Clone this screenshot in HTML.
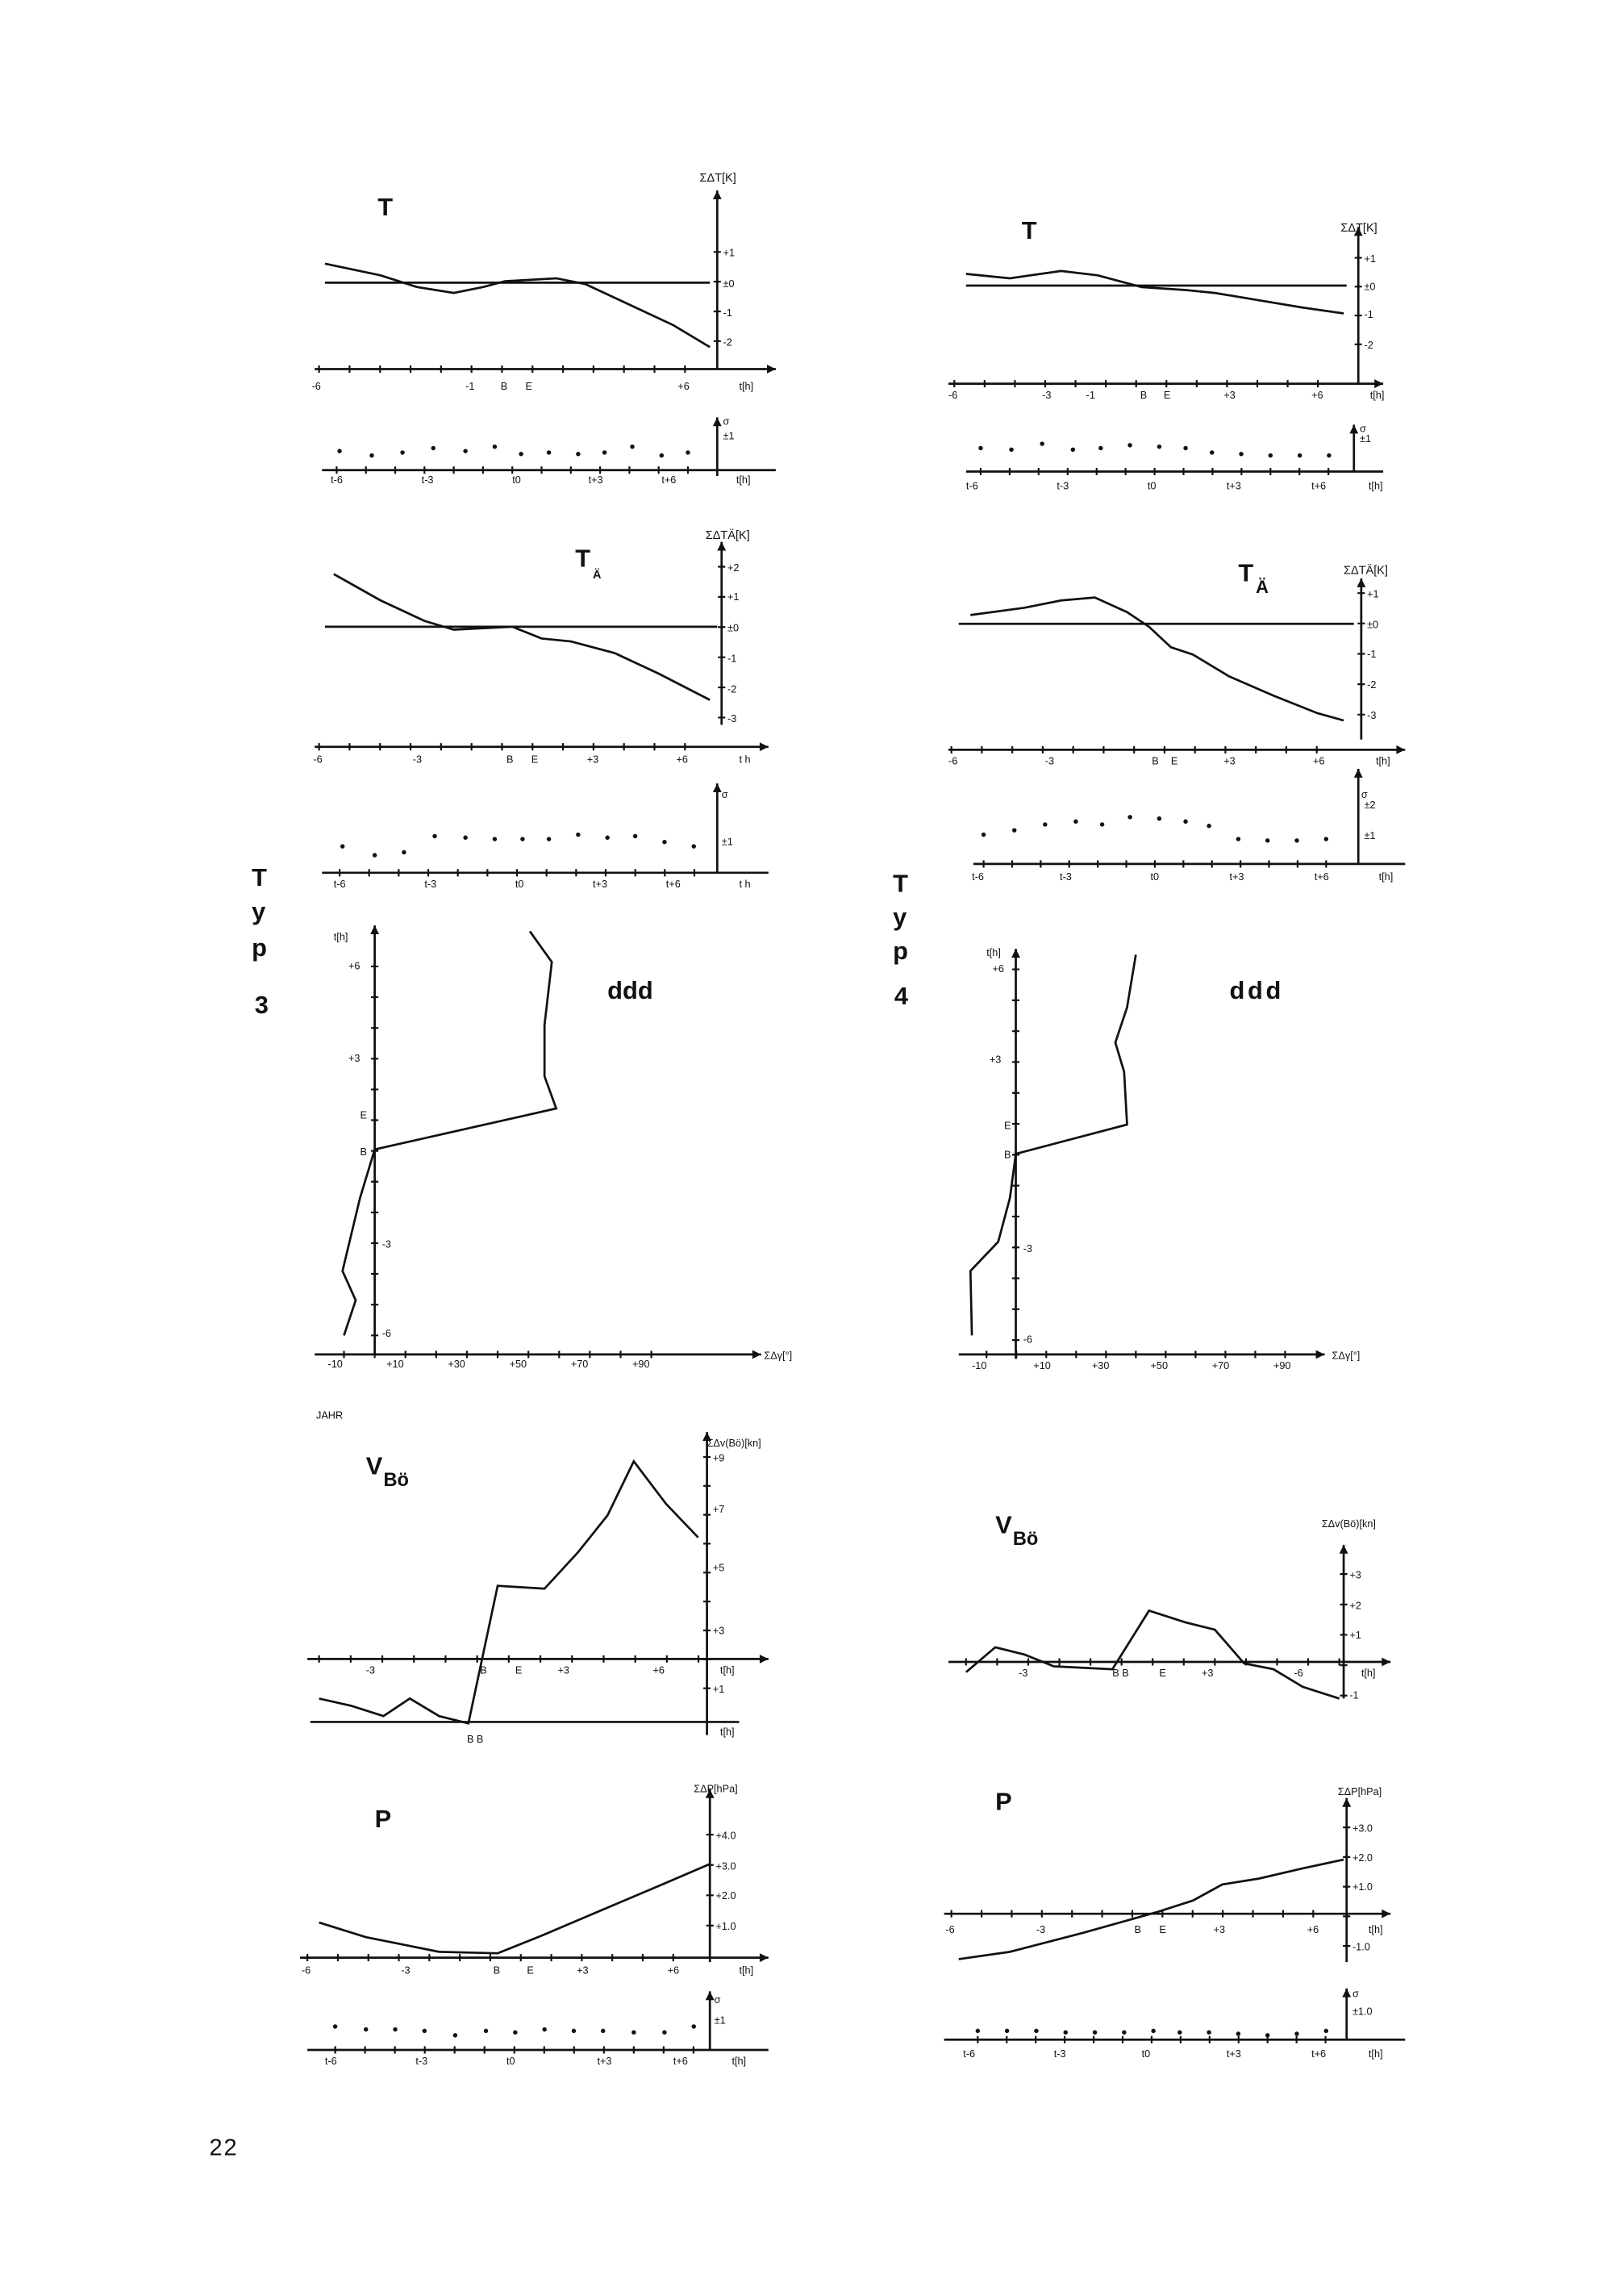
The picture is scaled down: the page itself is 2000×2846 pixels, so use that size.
<!DOCTYPE html>
<html><head><meta charset="utf-8"><style>
html,body{margin:0;padding:0;background:#fff;}
svg{display:block;}
text{font-family:"Liberation Sans",sans-serif;fill:#111;}
.s{font-size:7px;}
.m{font-size:8px;}
.b{font-size:17px;font-weight:bold;}
</style></head><body>
<svg width="2000" height="2846" viewBox="0 0 1102 1568" xmlns="http://www.w3.org/2000/svg">
<rect width="1102" height="1568" fill="#fff"/>
<g stroke="#111" stroke-width="1.5" fill="none">
<!-- LEFT T -->
<line x1="490" y1="130" x2="490" y2="252"/><line x1="215" y1="252" x2="530" y2="252"/>
<line x1="222" y1="193" x2="485" y2="193"/>
<polyline points="222,180 260,188 285,196 310,200 330,196 345,192 380,190 400,194 430,208 460,222 485,237"/>
<line x1="220" y1="321" x2="530" y2="321"/><line x1="490" y1="285" x2="490" y2="325"/>
<!-- LEFT TA -->
<line x1="493" y1="370" x2="493" y2="495"/><line x1="222" y1="428" x2="490" y2="428"/>
<polyline points="228,392 260,410 290,424 310,430 350,428 370,436 390,438 420,446 450,460 485,478"/>
<line x1="215" y1="510" x2="525" y2="510"/>
<line x1="220" y1="596" x2="525" y2="596"/><line x1="490" y1="535" x2="490" y2="596"/>
<!-- LEFT ddd -->
<line x1="256" y1="632" x2="256" y2="925"/><line x1="215" y1="925" x2="520" y2="925"/>
<polyline points="362,636 377,657 372,700 372,735 380,757 256,785 246,818 234,868 243,888 235,912"/>
<!-- LEFT VBo -->
<line x1="483" y1="978" x2="483" y2="1185"/><line x1="210" y1="1133" x2="525" y2="1133"/>
<line x1="212" y1="1176" x2="505" y2="1176"/>
<polyline points="218,1160 240,1165 262,1172 280,1160 300,1172 320,1177 340,1083 372,1085 395,1060 415,1035 433,998 455,1027 477,1050"/>
<!-- LEFT P -->
<line x1="485" y1="1222" x2="485" y2="1340"/><line x1="205" y1="1337" x2="525" y2="1337"/>
<polyline points="218,1313 250,1323 300,1333 340,1334 370,1322 410,1305 450,1288 485,1273"/>
<line x1="210" y1="1400" x2="525" y2="1400"/><line x1="485" y1="1360" x2="485" y2="1400"/>
<!-- RIGHT T -->
<line x1="928" y1="155" x2="928" y2="262"/><line x1="648" y1="262" x2="945" y2="262"/>
<line x1="660" y1="195" x2="920" y2="195"/>
<polyline points="660,187 690,190 725,185 750,188 780,196 810,198 830,200 860,205 890,210 918,214"/>
<line x1="660" y1="322" x2="945" y2="322"/><line x1="925" y1="290" x2="925" y2="322"/>
<!-- RIGHT TA -->
<line x1="930" y1="395" x2="930" y2="505"/><line x1="655" y1="426" x2="925" y2="426"/>
<polyline points="663,420 700,415 725,410 748,408 770,418 785,428 800,442 815,447 840,462 870,475 900,487 918,492"/>
<line x1="648" y1="512" x2="960" y2="512"/>
<line x1="665" y1="590" x2="960" y2="590"/><line x1="928" y1="525" x2="928" y2="590"/>
<!-- RIGHT ddd -->
<line x1="694" y1="648" x2="694" y2="928"/><line x1="655" y1="925" x2="905" y2="925"/>
<polyline points="776,652 770,688 762,712 768,732 770,768 694,788 690,818 682,848 663,868 664,912"/>
<!-- RIGHT VBo -->
<line x1="918" y1="1055" x2="918" y2="1160"/><line x1="648" y1="1135" x2="950" y2="1135"/>
<polyline points="660,1142 680,1125 700,1130 720,1138 760,1140 785,1100 810,1108 830,1113 850,1136 870,1140 890,1152 915,1160"/>
<!-- RIGHT P -->
<line x1="920" y1="1228" x2="920" y2="1340"/><line x1="645" y1="1307" x2="950" y2="1307"/>
<polyline points="655,1338 690,1333 740,1320 790,1306 815,1298 835,1287 860,1283 890,1276 918,1270"/>
<line x1="645" y1="1393" x2="960" y2="1393"/><line x1="920" y1="1358" x2="920" y2="1393"/>
</g>
<!-- tick marks -->
<g stroke="#111" stroke-width="5" fill="none">
<line x1="217.4" y1="252" x2="469" y2="252" stroke-dasharray="1.2 19.63"/>
<line x1="490" y1="171.4" x2="490" y2="234" stroke-dasharray="1.2 19.1"/>
<line x1="229.4" y1="321" x2="471" y2="321" stroke-dasharray="1.2 18.8"/>
<line x1="217.4" y1="510" x2="469" y2="510" stroke-dasharray="1.2 19.63"/>
<line x1="493" y1="386.4" x2="493" y2="491" stroke-dasharray="1.2 19.4"/>
<line x1="231.4" y1="596" x2="475" y2="596" stroke-dasharray="1.2 19"/>
<line x1="234.4" y1="925" x2="446" y2="925" stroke-dasharray="1.2 19.8"/>
<line x1="256" y1="659.4" x2="256" y2="913" stroke-dasharray="1.2 19.8"/>
<line x1="217.4" y1="1133" x2="478" y2="1133" stroke-dasharray="1.2 20.4"/>
<line x1="483" y1="994.4" x2="483" y2="1154" stroke-dasharray="1.2 18.55"/>
<line x1="209.4" y1="1337" x2="461" y2="1337" stroke-dasharray="1.2 19.63"/>
<line x1="485" y1="1252.4" x2="485" y2="1316" stroke-dasharray="1.2 19.5"/>
<line x1="228.4" y1="1400" x2="475" y2="1400" stroke-dasharray="1.2 19.2"/>
<line x1="651.4" y1="262" x2="901" y2="262" stroke-dasharray="1.2 19.5"/>
<line x1="928" y1="175.4" x2="928" y2="236" stroke-dasharray="1.2 18.5"/>
<line x1="669.4" y1="322" x2="909" y2="322" stroke-dasharray="1.2 18.6"/>
<line x1="649.4" y1="512" x2="901" y2="512" stroke-dasharray="1.2 19.6"/>
<line x1="930" y1="404.4" x2="930" y2="489" stroke-dasharray="1.2 19.55"/>
<line x1="671.4" y1="590" x2="907" y2="590" stroke-dasharray="1.2 18.3"/>
<line x1="673.4" y1="925" x2="879" y2="925" stroke-dasharray="1.2 19.2"/>
<line x1="694" y1="661.4" x2="694" y2="916" stroke-dasharray="1.2 19.9"/>
<line x1="659.4" y1="1135" x2="916" y2="1135" stroke-dasharray="1.2 20.05"/>
<line x1="918" y1="1074.4" x2="918" y2="1159" stroke-dasharray="1.2 19.55"/>
<line x1="649.4" y1="1307" x2="898" y2="1307" stroke-dasharray="1.2 19.4"/>
<line x1="920" y1="1247.4" x2="920" y2="1330" stroke-dasharray="1.2 19.05"/>
<line x1="667.4" y1="1393" x2="907" y2="1393" stroke-dasharray="1.2 18.6"/>
</g>
<g fill="#111">
<!-- sigma dots -->
<circle cx="232" cy="308" r="1.5"/><circle cx="254" cy="311" r="1.5"/><circle cx="275" cy="309" r="1.5"/><circle cx="296" cy="306" r="1.5"/><circle cx="318" cy="308" r="1.5"/><circle cx="338" cy="305" r="1.5"/><circle cx="356" cy="310" r="1.5"/><circle cx="375" cy="309" r="1.5"/><circle cx="395" cy="310" r="1.5"/><circle cx="413" cy="309" r="1.5"/><circle cx="432" cy="305" r="1.5"/><circle cx="452" cy="311" r="1.5"/><circle cx="470" cy="309" r="1.5"/>
<circle cx="234" cy="578" r="1.5"/><circle cx="256" cy="584" r="1.5"/><circle cx="276" cy="582" r="1.5"/><circle cx="297" cy="571" r="1.5"/><circle cx="318" cy="572" r="1.5"/><circle cx="338" cy="573" r="1.5"/><circle cx="357" cy="573" r="1.5"/><circle cx="375" cy="573" r="1.5"/><circle cx="395" cy="570" r="1.5"/><circle cx="415" cy="572" r="1.5"/><circle cx="434" cy="571" r="1.5"/><circle cx="454" cy="575" r="1.5"/><circle cx="474" cy="578" r="1.5"/>
<circle cx="229" cy="1384" r="1.5"/><circle cx="250" cy="1386" r="1.5"/><circle cx="270" cy="1386" r="1.5"/><circle cx="290" cy="1387" r="1.5"/><circle cx="311" cy="1390" r="1.5"/><circle cx="332" cy="1387" r="1.5"/><circle cx="352" cy="1388" r="1.5"/><circle cx="372" cy="1386" r="1.5"/><circle cx="392" cy="1387" r="1.5"/><circle cx="412" cy="1387" r="1.5"/><circle cx="433" cy="1388" r="1.5"/><circle cx="454" cy="1388" r="1.5"/><circle cx="474" cy="1384" r="1.5"/>
<circle cx="670" cy="306" r="1.5"/><circle cx="691" cy="307" r="1.5"/><circle cx="712" cy="303" r="1.5"/><circle cx="733" cy="307" r="1.5"/><circle cx="752" cy="306" r="1.5"/><circle cx="772" cy="304" r="1.5"/><circle cx="792" cy="305" r="1.5"/><circle cx="810" cy="306" r="1.5"/><circle cx="828" cy="309" r="1.5"/><circle cx="848" cy="310" r="1.5"/><circle cx="868" cy="311" r="1.5"/><circle cx="888" cy="311" r="1.5"/><circle cx="908" cy="311" r="1.5"/>
<circle cx="672" cy="570" r="1.5"/><circle cx="693" cy="567" r="1.5"/><circle cx="714" cy="563" r="1.5"/><circle cx="735" cy="561" r="1.5"/><circle cx="753" cy="563" r="1.5"/><circle cx="772" cy="558" r="1.5"/><circle cx="792" cy="559" r="1.5"/><circle cx="810" cy="561" r="1.5"/><circle cx="826" cy="564" r="1.5"/><circle cx="846" cy="573" r="1.5"/><circle cx="866" cy="574" r="1.5"/><circle cx="886" cy="574" r="1.5"/><circle cx="906" cy="573" r="1.5"/>
<circle cx="668" cy="1387" r="1.5"/><circle cx="688" cy="1387" r="1.5"/><circle cx="708" cy="1387" r="1.5"/><circle cx="728" cy="1388" r="1.5"/><circle cx="748" cy="1388" r="1.5"/><circle cx="768" cy="1388" r="1.5"/><circle cx="788" cy="1387" r="1.5"/><circle cx="806" cy="1388" r="1.5"/><circle cx="826" cy="1388" r="1.5"/><circle cx="846" cy="1389" r="1.5"/><circle cx="866" cy="1390" r="1.5"/><circle cx="886" cy="1389" r="1.5"/><circle cx="906" cy="1387" r="1.5"/>
<!-- arrows -->
<path d="M530,252 l-6,-3 v6z M490,130 l-3,6 h6z M525,510 l-6,-3 v6z M493,370 l-3,6 h6z M520,925 l-6,-3 v6z M256,632 l-3,6 h6z M525,1133 l-6,-3 v6z M483,978 l-3,6 h6z M525,1337 l-6,-3 v6z M485,1222 l-3,6 h6z M945,262 l-6,-3 v6z M928,155 l-3,6 h6z M960,512 l-6,-3 v6z M930,395 l-3,6 h6z M905,925 l-6,-3 v6z M694,648 l-3,6 h6z M950,1135 l-6,-3 v6z M918,1055 l-3,6 h6z M950,1307 l-6,-3 v6z M920,1228 l-3,6 h6z M925,290 l-3,6 h6z M928,525 l-3,6 h6z M920,1358 l-3,6 h6z M490,285 l-3,6 h6z M490,535 l-3,6 h6z M485,1360 l-3,6 h6z"/>
</g>
<!-- LEFT labels -->
<text class="b" x="258" y="147">T</text>
<text class="m" x="478" y="124">ΣΔT[K]</text>
<text class="s" x="494" y="175">+1</text><text class="s" x="494" y="196">±0</text><text class="s" x="494" y="216">-1</text><text class="s" x="494" y="236">-2</text>
<text class="s" x="213" y="266">-6</text><text class="s" x="318" y="266">-1</text><text class="s" x="342" y="266">B</text><text class="s" x="359" y="266">E</text><text class="s" x="463" y="266">+6</text><text class="s" x="505" y="266">t[h]</text>
<text class="s" x="494" y="290">σ</text><text class="s" x="494" y="300">±1</text>
<text class="s" x="226" y="330">t-6</text><text class="s" x="288" y="330">t-3</text><text class="s" x="350" y="330">t0</text><text class="s" x="402" y="330">t+3</text><text class="s" x="452" y="330">t+6</text><text class="s" x="503" y="330">t[h]</text>
<text class="b" x="393" y="387">T</text><text class="m" x="405" y="395" font-weight="bold" font-size="12">Ä</text>
<text class="m" x="482" y="368">ΣΔTÄ[K]</text>
<text class="s" x="497" y="390">+2</text><text class="s" x="497" y="410">+1</text><text class="s" x="497" y="431">±0</text><text class="s" x="497" y="452">-1</text><text class="s" x="497" y="473">-2</text><text class="s" x="497" y="493">-3</text>
<text class="s" x="214" y="521">-6</text><text class="s" x="282" y="521">-3</text><text class="s" x="346" y="521">B</text><text class="s" x="363" y="521">E</text><text class="s" x="401" y="521">+3</text><text class="s" x="462" y="521">+6</text><text class="s" x="505" y="521">t h</text>
<text class="s" x="493" y="545">σ</text><text class="s" x="493" y="577">±1</text>
<text class="s" x="228" y="606">t-6</text><text class="s" x="290" y="606">t-3</text><text class="s" x="352" y="606">t0</text><text class="s" x="405" y="606">t+3</text><text class="s" x="455" y="606">t+6</text><text class="s" x="505" y="606">t h</text>
<text class="b" x="172" y="605">T</text><text class="b" x="172" y="628">y</text><text class="b" x="172" y="653">p</text><text class="b" x="174" y="692">3</text>
<text class="s" x="228" y="642">t[h]</text><text class="s" x="238" y="662">+6</text><text class="s" x="238" y="725">+3</text><text class="s" x="246" y="764">E</text><text class="s" x="246" y="789">B</text><text class="s" x="261" y="852">-3</text><text class="s" x="261" y="913">-6</text>
<text class="s" x="224" y="934">-10</text><text class="s" x="264" y="934">+10</text><text class="s" x="306" y="934">+30</text><text class="s" x="348" y="934">+50</text><text class="s" x="390" y="934">+70</text><text class="s" x="432" y="934">+90</text><text class="s" x="522" y="928">ΣΔγ[°]</text>
<text class="b" x="415" y="682">ddd</text>
<text class="s" x="216" y="969">JAHR</text>
<text class="b" x="250" y="1007">V</text><text font-size="13" font-weight="bold" x="262" y="1015">Bö</text>
<text class="s" x="483" y="988">ΣΔv(Bö)[kn]</text>
<text class="s" x="487" y="998">+9</text><text class="s" x="487" y="1033">+7</text><text class="s" x="487" y="1073">+5</text><text class="s" x="487" y="1116">+3</text><text class="s" x="487" y="1156">+1</text>
<text class="s" x="250" y="1143">-3</text><text class="s" x="328" y="1143">B</text><text class="s" x="352" y="1143">E</text><text class="s" x="381" y="1143">+3</text><text class="s" x="446" y="1143">+6</text><text class="s" x="492" y="1143">t[h]</text>
<text class="s" x="319" y="1190">B B</text><text class="s" x="492" y="1185">t[h]</text>
<text class="b" x="256" y="1248">P</text>
<text class="s" x="474" y="1224">ΣΔP[hPa]</text>
<text class="s" x="489" y="1256">+4.0</text><text class="s" x="489" y="1277">+3.0</text><text class="s" x="489" y="1297">+2.0</text><text class="s" x="489" y="1318">+1.0</text>
<text class="s" x="206" y="1348">-6</text><text class="s" x="274" y="1348">-3</text><text class="s" x="337" y="1348">B</text><text class="s" x="360" y="1348">E</text><text class="s" x="394" y="1348">+3</text><text class="s" x="456" y="1348">+6</text><text class="s" x="505" y="1348">t[h]</text>
<text class="s" x="488" y="1368">σ</text><text class="s" x="488" y="1382">±1</text>
<text class="s" x="222" y="1410">t-6</text><text class="s" x="284" y="1410">t-3</text><text class="s" x="346" y="1410">t0</text><text class="s" x="408" y="1410">t+3</text><text class="s" x="460" y="1410">t+6</text><text class="s" x="500" y="1410">t[h]</text>
<!-- RIGHT labels -->
<text class="b" x="698" y="163">T</text>
<text class="m" x="916" y="158">ΣΔT[K]</text>
<text class="s" x="932" y="179">+1</text><text class="s" x="932" y="198">±0</text><text class="s" x="932" y="217">-1</text><text class="s" x="932" y="238">-2</text>
<text class="s" x="648" y="272">-6</text><text class="s" x="712" y="272">-3</text><text class="s" x="742" y="272">-1</text><text class="s" x="779" y="272">B</text><text class="s" x="795" y="272">E</text><text class="s" x="836" y="272">+3</text><text class="s" x="896" y="272">+6</text><text class="s" x="936" y="272">t[h]</text>
<text class="s" x="929" y="295">σ</text><text class="s" x="929" y="302">±1</text>
<text class="s" x="660" y="334">t-6</text><text class="s" x="722" y="334">t-3</text><text class="s" x="784" y="334">t0</text><text class="s" x="838" y="334">t+3</text><text class="s" x="896" y="334">t+6</text><text class="s" x="935" y="334">t[h]</text>
<text class="b" x="846" y="397">T</text><text font-size="12" font-weight="bold" x="858" y="405">Ä</text>
<text class="m" x="918" y="392">ΣΔTÄ[K]</text>
<text class="s" x="934" y="408">+1</text><text class="s" x="934" y="429">±0</text><text class="s" x="934" y="449">-1</text><text class="s" x="934" y="470">-2</text><text class="s" x="934" y="491">-3</text>
<text class="s" x="648" y="522">-6</text><text class="s" x="714" y="522">-3</text><text class="s" x="787" y="522">B</text><text class="s" x="800" y="522">E</text><text class="s" x="836" y="522">+3</text><text class="s" x="897" y="522">+6</text><text class="s" x="940" y="522">t[h]</text>
<text class="s" x="930" y="545">σ</text><text class="s" x="932" y="552">±2</text><text class="s" x="932" y="573">±1</text>
<text class="s" x="664" y="601">t-6</text><text class="s" x="724" y="601">t-3</text><text class="s" x="786" y="601">t0</text><text class="s" x="840" y="601">t+3</text><text class="s" x="898" y="601">t+6</text><text class="s" x="942" y="601">t[h]</text>
<text class="b" x="610" y="609">T</text><text class="b" x="610" y="632">y</text><text class="b" x="610" y="655">p</text><text class="b" x="611" y="686">4</text>
<text class="s" x="674" y="653">t[h]</text><text class="s" x="678" y="664">+6</text><text class="s" x="676" y="726">+3</text><text class="s" x="686" y="771">E</text><text class="s" x="686" y="791">B</text><text class="s" x="699" y="855">-3</text><text class="s" x="699" y="917">-6</text>
<text class="s" x="664" y="935">-10</text><text class="s" x="706" y="935">+10</text><text class="s" x="746" y="935">+30</text><text class="s" x="786" y="935">+50</text><text class="s" x="828" y="935">+70</text><text class="s" x="870" y="935">+90</text><text class="s" x="910" y="928">ΣΔγ[°]</text>
<text class="b" x="840" y="682" letter-spacing="2">ddd</text>
<text class="b" x="680" y="1047">V</text><text font-size="13" font-weight="bold" x="692" y="1055">Bö</text>
<text class="s" x="903" y="1043">ΣΔv(Bö)[kn]</text>
<text class="s" x="922" y="1078">+3</text><text class="s" x="922" y="1099">+2</text><text class="s" x="922" y="1119">+1</text><text class="s" x="922" y="1160">-1</text>
<text class="s" x="696" y="1145">-3</text><text class="s" x="760" y="1145">B B</text><text class="s" x="792" y="1145">E</text><text class="s" x="821" y="1145">+3</text><text class="s" x="884" y="1145">-6</text><text class="s" x="930" y="1145">t[h]</text>
<text class="b" x="680" y="1236">P</text>
<text class="s" x="914" y="1226">ΣΔP[hPa]</text>
<text class="s" x="924" y="1251">+3.0</text><text class="s" x="924" y="1271">+2.0</text><text class="s" x="924" y="1291">+1.0</text><text class="s" x="924" y="1332">-1.0</text>
<text class="s" x="646" y="1320">-6</text><text class="s" x="708" y="1320">-3</text><text class="s" x="775" y="1320">B</text><text class="s" x="792" y="1320">E</text><text class="s" x="829" y="1320">+3</text><text class="s" x="893" y="1320">+6</text><text class="s" x="935" y="1320">t[h]</text>
<text class="s" x="924" y="1364">σ</text><text class="s" x="924" y="1376">±1.0</text>
<text class="s" x="658" y="1405">t-6</text><text class="s" x="720" y="1405">t-3</text><text class="s" x="780" y="1405">t0</text><text class="s" x="838" y="1405">t+3</text><text class="s" x="896" y="1405">t+6</text><text class="s" x="935" y="1405">t[h]</text>
<text x="143" y="1472" font-size="16" letter-spacing="1">22</text>
</svg>
</body></html>
